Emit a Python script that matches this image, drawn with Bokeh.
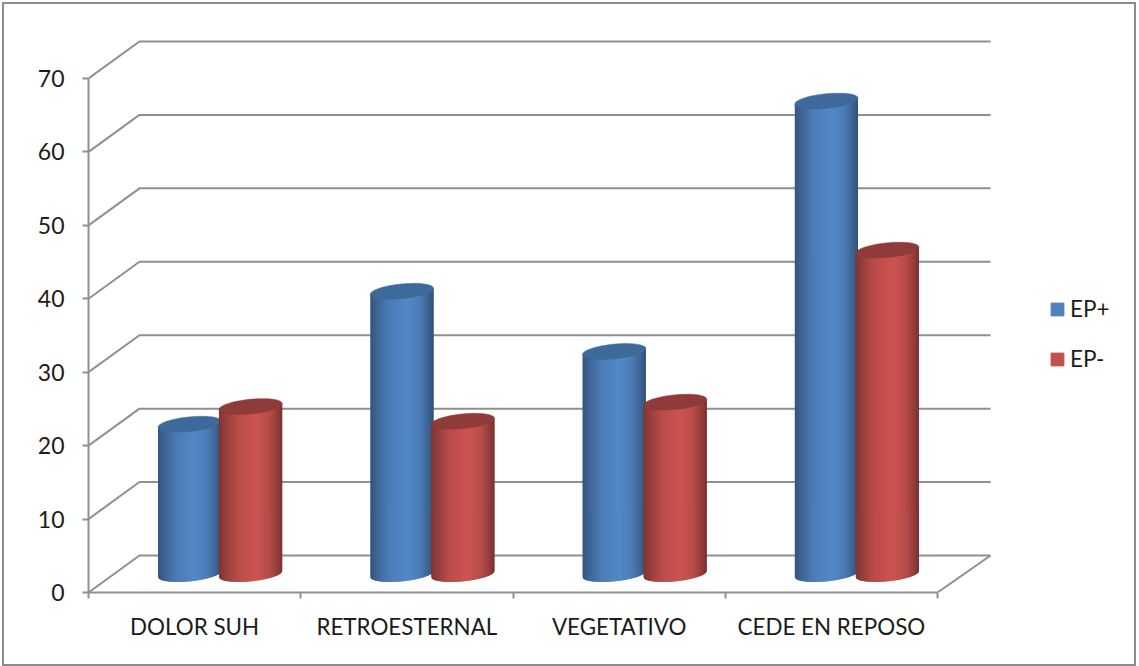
import numpy as np
from bokeh.embed import file_html
from bokeh.models import ColumnDataSource, FixedTicker, Legend, LegendItem, LinearAxis, Range1d
from bokeh.plotting import figure
from bokeh.resources import INLINE

categories = ["DOLOR SUH", "RETROESTERNAL", "VEGETATIVO", "CEDE EN REPOSO"]
ep_plus = [20.4, 38.5, 30.3, 64.4]
ep_minus = [22.8, 20.8, 23.4, 44.1]
y_ticks = [0, 10, 20, 30, 40, 50, 60, 70]
series_labels = ["EP+", "EP-"]
series_colors = ["#4f81bd", "#c0504d"]
cap_colors = ["#3d6a9a", "#8f3b39"]

GRID = "#8f8f8f"
FONT = "Lato"

# Oblique projection of the depth axis, in data units
DEPTH_X, DEPTH_Y = 0.24, 5.04
WALL_END = 0.25
# Cylinder shape in data units
RADIUS_X, RADIUS_Y, TILT = 0.149, 1.0, 0.41
OFFSET = 0.1435
STRIPS = 64

p = figure(width=1139, height=666, frame_width=1051, frame_height=592,
           min_border_left=88, min_border_right=0, min_border_top=0, min_border_bottom=74,
           x_range=Range1d(0, 1051 / 212.25), y_range=Range1d(0, 592 / 7.343),
           x_axis_type=None, y_axis_type=None,
           toolbar_location=None, output_backend="svg", outline_line_color=None)
p.background_fill_color = "white"
p.border_fill_color = "white"
# Chart border, laid over the canvas because it lies outside the plot frame
p.stylesheets = [":host::after { content: ''; position: absolute; left: 2px; top: 2px; "
                 "right: 3px; bottom: 0px; border: 2.5px solid #8c8c8c; "
                 "pointer-events: none; z-index: 100; }"]

# Axes
y_axis = LinearAxis(ticker=FixedTicker(ticks=y_ticks), bounds=(0, 70))
y_axis.axis_line_color = GRID
y_axis.axis_line_width = 2
y_axis.major_tick_line_color = GRID
y_axis.major_tick_line_width = 2
y_axis.major_tick_in = 0
y_axis.major_tick_out = 6
y_axis.minor_tick_line_color = None
y_axis.major_label_text_font = FONT
y_axis.major_label_text_font_size = "23px"
y_axis.major_label_text_color = "#1c1c1c"
y_axis.major_label_standoff = 18
p.add_layout(y_axis, "left")

x_axis = LinearAxis(ticker=FixedTicker(ticks=[i + 0.5 for i in range(len(categories))],
                                       minor_ticks=list(range(len(categories) + 1))),
                    bounds=(0, len(categories)))
x_axis.major_label_overrides = {i + 0.5: c for i, c in enumerate(categories)}
x_axis.axis_line_color = GRID
x_axis.axis_line_width = 2
x_axis.major_tick_line_color = None
x_axis.major_tick_in = 0
x_axis.major_tick_out = 0
x_axis.minor_tick_line_color = GRID
x_axis.minor_tick_line_width = 2
x_axis.minor_tick_in = 0
x_axis.minor_tick_out = 6
x_axis.major_label_text_font = FONT
x_axis.major_label_text_font_size = "22.4px"
x_axis.major_label_text_color = "#1c1c1c"
x_axis.major_label_standoff = 14
p.add_layout(x_axis, "below")

# Back wall grid lines and the short receding segments joining them to the axis
n_cat = len(categories)
wall_xs, wall_ys = [], []
for v in y_ticks:
    wall_xs.append([0, DEPTH_X, n_cat + WALL_END])
    wall_ys.append([v, v + DEPTH_Y, v + DEPTH_Y])
wall_xs.append([n_cat, n_cat + WALL_END])
wall_ys.append([0, DEPTH_Y])
p.multi_line(wall_xs, wall_ys, line_color=GRID, line_width=2)


def shade(hex_color, u):
    """Darken a colour across the cylinder; u runs from 0 at the left edge to 1 at the right."""
    rgb = np.array([int(hex_color[i:i + 2], 16) for i in (1, 3, 5)], dtype=float)
    factor = np.interp(u, [0, 0.1, 0.3, 0.58, 0.78, 0.93, 1], [0.66, 0.78, 0.97, 1.06, 0.97, 0.76, 0.62])
    r, g, b = np.clip(rgb * factor, 0, 255).astype(int)
    return f"#{r:02x}{g:02x}{b:02x}"


def cylinder(center, val, color, cap):
    cx = center + DEPTH_X / 2
    base = DEPTH_Y / 2
    edges = np.linspace(-1, 1, STRIPS + 1)
    # Strips are painted left to right, each running past the next one's edge to hide seams
    overlap = edges[1] - edges[0]
    xs, ys, fills = [], [], []
    for a, b in zip(edges[:-1], edges[1:]):
        us = np.linspace(a, min(b + overlap, 1), 4)
        bottom = base - RADIUS_Y * np.sqrt(1 - us ** 2) + TILT * us
        top = base + val + TILT * us
        xs.append(list(cx + RADIUS_X * us) + list(cx + RADIUS_X * us[::-1]))
        ys.append(list(bottom) + list(top[::-1]))
        fills.append(shade(color, (a + b + 2) / 4))
    src = ColumnDataSource(dict(xs=xs, ys=ys, fill=fills))
    p.patches("xs", "ys", source=src, fill_color="fill", line_color=None)
    t = np.linspace(0, 2 * np.pi, 80)
    p.patch(cx + RADIUS_X * np.cos(t), base + val + RADIUS_Y * np.sin(t) + TILT * np.cos(t),
            fill_color=cap, line_color=cap, line_width=0.5)


for i in range(n_cat):
    cylinder(i + 0.5 - OFFSET, ep_plus[i], series_colors[0], cap_colors[0])
    cylinder(i + 0.5 + OFFSET, ep_minus[i], series_colors[1], cap_colors[1])

# Legend, keyed by quads with undefined coordinates so that only the swatches show
items = []
for label, color in zip(series_labels, series_colors):
    r = p.quad(left=[np.nan], right=[np.nan], top=[np.nan], bottom=[np.nan],
               fill_color=color, line_color=color)
    items.append(LegendItem(label=label, renderers=[r]))
legend = Legend(items=items, location=(961, 220), orientation="vertical",
                glyph_width=16, glyph_height=16, spacing=23, padding=0, margin=0,
                label_standoff=5, label_text_font=FONT, label_text_font_size="22.5px",
                label_text_color="#1c1c1c", border_line_color=None,
                background_fill_alpha=0)
p.add_layout(legend)

open("out.html", "w").write(file_html(p, INLINE))
